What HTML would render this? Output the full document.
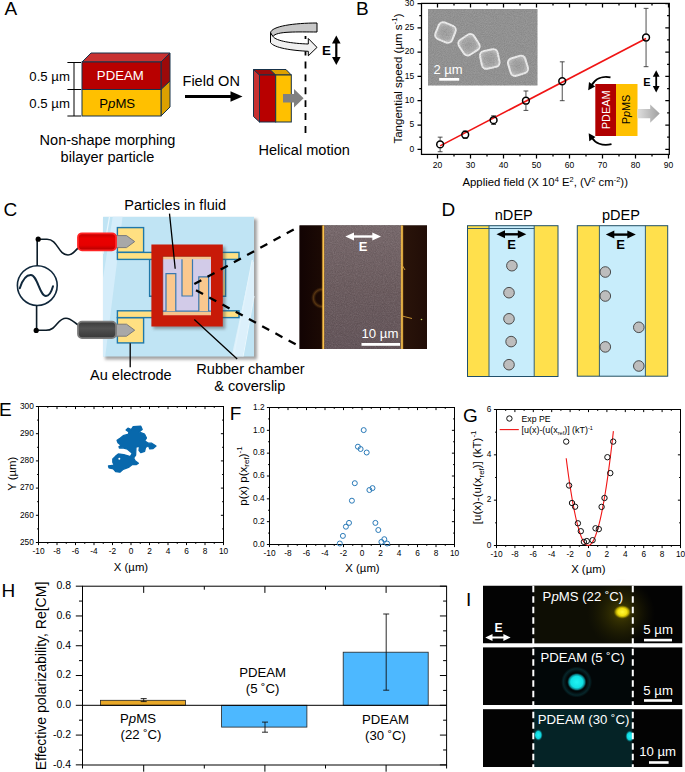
<!DOCTYPE html>
<html><head><meta charset="utf-8"><title>Figure</title>
<style>
html,body{margin:0;padding:0;background:#fff;}
svg{display:block;font-family:"Liberation Sans",sans-serif;}
.t{font-size:14.55px;fill:#000;}
.tk{font-size:8.6px;fill:#000;}
.pl{font-size:19px;fill:#000;}
.ax{stroke:#000;stroke-width:1;fill:none;}
.s{font-size:13.2px;fill:#000;}
</style></head><body>
<svg width="685" height="772" viewBox="0 0 685 772">
<rect width="685" height="772" fill="#fff"/>
<!--PANEL_A-->
<g id="pA">
<text class="pl" x="4.5" y="15.2">A</text>
<!-- big bilayer block -->
<polygon points="82,62 91,53 170,53 161,62" fill="#c83232" stroke="#17324a" stroke-width="1"/>
<polygon points="161,62 170,53 170,81 161,89.5" fill="#9c0a0a" stroke="#17324a" stroke-width="1"/>
<polygon points="161,89.5 170,81 170,107 161,116" fill="#dca000" stroke="#17324a" stroke-width="1"/>
<rect x="82" y="62" width="79" height="27.5" fill="#b80000" stroke="#17324a" stroke-width="1"/>
<rect x="82" y="89.5" width="79" height="26.5" fill="#ffc000" stroke="#17324a" stroke-width="1"/>
<text class="s" x="120.3" y="79.6" text-anchor="middle" style="fill:#fff">PDEAM</text>
<text class="s" x="117.2" y="107.8" text-anchor="middle">P<tspan font-style="italic">p</tspan>MS</text>
<!-- dimension -->
<path d="M74,62.5V116 M67.4,62.5H81 M67.4,89.5H81 M67.4,116H81" stroke="#000" stroke-width="1" fill="none"/>
<text class="s" x="29.3" y="81">0.5 µm</text>
<text class="s" x="29.3" y="107.5">0.5 µm</text>
<text class="t" x="107.5" y="144.6" text-anchor="middle">Non-shape morphing</text>
<text class="t" x="107.5" y="162" text-anchor="middle">bilayer particle</text>
<!-- field on arrow -->
<text class="t" x="182.5" y="85.5">Field ON</text>
<path d="M185,96.5H232" stroke="#000" stroke-width="3.2"/>
<polygon points="230.5,91.3 242.5,96.5 230.5,101.7" fill="#000"/>
<!-- small particle -->
<polygon points="253.5,69.5 259.5,75 259.5,122 253.5,116.5" fill="#c83232" stroke="#17324a" stroke-width="1"/>
<polygon points="253.5,69.5 270,69.5 275.7,75 259.5,75" fill="#9c0a0a" stroke="#17324a" stroke-width="1"/>
<polygon points="270,69.5 286,69.5 291.3,75 275.7,75" fill="#dca000" stroke="#17324a" stroke-width="1"/>
<rect x="259.5" y="75" width="16.2" height="47" fill="#b80000" stroke="#17324a" stroke-width="1"/>
<rect x="275.7" y="75" width="15.6" height="47" fill="#ffc000" stroke="#17324a" stroke-width="1"/>
<polygon points="283,94 294,94 294,89 303.6,98.3 294,107.6 294,102.6 283,102.6" fill="#808080"/>
<!-- helical arrow -->
<path d="M317,23 C295,23 271,26 270.5,33 L273,36.5 C276,31 298,32 317,32 Z" fill="#c8c8c8" stroke="#000" stroke-width="1" stroke-linejoin="round"/>
<path d="M270.5,33 L270.5,42.5 C274,48 292,50.5 308.3,51.3 L308.3,55.8 L317,47.4 L308.3,38.5 L308.3,44 C292,43.5 276,41 273,36.5 Z" fill="#f0f0f0" stroke="#000" stroke-width="1" stroke-linejoin="round"/>
<path d="M305.5,36V39" stroke="#000" stroke-width="1.8" fill="none"/><path d="M305.5,51.3V55.5 M305.5,61.5V134" stroke="#000" stroke-width="1.8" stroke-dasharray="6.9 6" fill="none"/>
<text x="322" y="54.8" font-size="13.3" font-weight="bold">E</text>
<path d="M336.3,42V58" stroke="#000" stroke-width="2.2"/>
<polygon points="336.3,35.5 340.6,43.5 332,43.5" fill="#000"/>
<polygon points="336.3,65 340.6,57 332,57" fill="#000"/>
<text class="t" x="258.5" y="154.8">Helical motion</text>
</g>
<!--PANEL_B-->
<g id="pB">
<text class="pl" x="356" y="15.3">B</text>
<!-- SEM inset -->
<defs>
<filter id="grain" x="0" y="0" width="100%" height="100%" color-interpolation-filters="sRGB"><feTurbulence type="fractalNoise" baseFrequency="0.9" numOctaves="2" seed="7" result="n"/><feColorMatrix in="n" type="matrix" values="0 0 0 0 1  0 0 0 0 1  0 0 0 0 1  1.6 0 0 0 -0.62"/></filter><filter id="grainD" x="0" y="0" width="100%" height="100%" color-interpolation-filters="sRGB"><feTurbulence type="fractalNoise" baseFrequency="0.9" numOctaves="2" seed="11" result="n"/><feColorMatrix in="n" type="matrix" values="0 0 0 0 0  0 0 0 0 0  0 0 0 0 0  1.6 0 0 0 -0.62"/></filter>
<radialGradient id="sq" cx="0.5" cy="0.5" r="0.6"><stop offset="0" stop-color="#9c9c9c"/><stop offset="0.6" stop-color="#a8a8a8"/><stop offset="1" stop-color="#c4c4c4"/></radialGradient><filter id="sblur" x="-20%" y="-20%" width="140%" height="140%"><feGaussianBlur stdDeviation="0.45"/></filter>
<linearGradient id="garrow" x1="0" y1="0" x2="1" y2="0"><stop offset="0" stop-color="#dedede"/><stop offset="1" stop-color="#a0a0a0"/></linearGradient>
</defs>
<rect x="428" y="9" width="109.5" height="76.5" fill="#929292"/>
<g stroke="#ececec" stroke-width="1.9" fill="url(#sq)" filter="url(#sblur)">
<rect x="-9" y="-9" width="18" height="18" rx="4.5" transform="translate(445.5,32.5) rotate(22)"/>
<rect x="-9" y="-9" width="18" height="18" rx="4.5" transform="translate(469,44.8) rotate(-33)"/>
<rect x="-9" y="-9" width="18" height="18" rx="4.5" transform="translate(489.8,59) rotate(-12)"/>
<rect x="-9" y="-9" width="18" height="18" rx="4.5" transform="translate(518,65.8) rotate(-17)"/>
</g>
<rect x="428" y="9" width="109.5" height="76.5" filter="url(#grain)" opacity="0.13"/><rect x="428" y="9" width="109.5" height="76.5" filter="url(#grainD)" opacity="0.11"/>
<text x="433.5" y="74" font-size="13" style="fill:#fff" fill="#fff">2 µm</text>
<rect x="439.2" y="78" width="20" height="2.7" fill="#fff"/>
<!-- axes -->
<rect x="421.5" y="3.4" width="247.8" height="151" fill="none" stroke="#000" stroke-width="1.25"/>
<path d="M437.5,154.4L437.5,158.4 M437.5,3.4L437.5,7.4 M470.5,154.4L470.5,158.4 M470.5,3.4L470.5,7.4 M503.5,154.4L503.5,158.4 M503.5,3.4L503.5,7.4 M536.5,154.4L536.5,158.4 M536.5,3.4L536.5,7.4 M569.5,154.4L569.5,158.4 M569.5,3.4L569.5,7.4 M602.5,154.4L602.5,158.4 M602.5,3.4L602.5,7.4 M635.5,154.4L635.5,158.4 M635.5,3.4L635.5,7.4 M668.5,154.4L668.5,158.4 M668.5,3.4L668.5,7.4 M454,154.4L454,156.6 M454,3.4L454,5.6 M487,154.4L487,156.6 M487,3.4L487,5.6 M520,154.4L520,156.6 M520,3.4L520,5.6 M553,154.4L553,156.6 M553,3.4L553,5.6 M586,154.4L586,156.6 M586,3.4L586,5.6 M619,154.4L619,156.6 M619,3.4L619,5.6 M652,154.4L652,156.6 M652,3.4L652,5.6 M421.5,149.3L417.5,149.3 M669.3,149.3L665.3,149.3 M421.5,125L417.5,125 M669.3,125L665.3,125 M421.5,100.7L417.5,100.7 M669.3,100.7L665.3,100.7 M421.5,76.4L417.5,76.4 M669.3,76.4L665.3,76.4 M421.5,52.1L417.5,52.1 M669.3,52.1L665.3,52.1 M421.5,27.8L417.5,27.8 M669.3,27.8L665.3,27.8 M421.5,3.5L417.5,3.5 M669.3,3.5L665.3,3.5 M421.5,137.15L419.3,137.15 M669.3,137.15L667.1,137.15 M421.5,112.85L419.3,112.85 M669.3,112.85L667.1,112.85 M421.5,88.55L419.3,88.55 M669.3,88.55L667.1,88.55 M421.5,64.25L419.3,64.25 M669.3,64.25L667.1,64.25 M421.5,39.95L419.3,39.95 M669.3,39.95L667.1,39.95 M421.5,15.65L419.3,15.65 M669.3,15.65L667.1,15.65" stroke="#000" stroke-width="1.25" fill="none"/>
<g font-size="8.5" text-anchor="middle"><text x="437.5" y="167.9">20</text><text x="470.5" y="167.9">30</text><text x="503.5" y="167.9">40</text><text x="536.5" y="167.9">50</text><text x="569.5" y="167.9">60</text><text x="602.5" y="167.9">70</text><text x="635.5" y="167.9">80</text><text x="668.5" y="167.9">90</text></g>
<g font-size="8.5" text-anchor="end"><text x="414.3" y="151.59">0</text><text x="414.3" y="127.3">5</text><text x="414.3" y="103">10</text><text x="414.3" y="78.7">15</text><text x="414.3" y="54.4">20</text><text x="414.3" y="30.09">25</text><text x="414.3" y="5.79">30</text></g>
<path d="M440.14,145.9L646.06,38.49" stroke="#f01414" stroke-width="1.6" fill="none"/>
<path d="M440.14,137.15L440.14,140.64 M440.14,148.24L440.14,151.73 M437.74,137.15L442.54,137.15 M437.74,151.73L442.54,151.73 M465.22,131.08L465.22,130.92 M465.22,138.52L465.22,138.37 M462.82,131.08L467.62,131.08 M462.82,138.37L467.62,138.37 M493.6,115.77L493.6,116.34 M493.6,123.94L493.6,124.51 M491.2,115.77L496,115.77 M491.2,124.51L496,124.51 M525.94,90.98L525.94,96.9 M525.94,104.5L525.94,110.42 M523.54,90.98L528.34,90.98 M523.54,110.42L528.34,110.42 M562.24,61.82L562.24,77.46 M562.24,85.06L562.24,100.7 M559.84,61.82L564.64,61.82 M559.84,100.7L564.64,100.7 M646.06,8.36L646.06,33.72 M646.06,41.32L646.06,66.68 M643.66,8.36L648.46,8.36 M643.66,66.68L648.46,66.68" stroke="#222" stroke-width="0.8" fill="none"/>
<circle cx="440.14" cy="144.44" r="3.4" fill="none" stroke="#000" stroke-width="1.5"/><circle cx="465.22" cy="134.72" r="3.4" fill="none" stroke="#000" stroke-width="1.5"/><circle cx="493.6" cy="120.14" r="3.4" fill="none" stroke="#000" stroke-width="1.5"/><circle cx="525.94" cy="100.7" r="3.4" fill="none" stroke="#000" stroke-width="1.5"/><circle cx="562.24" cy="81.26" r="3.4" fill="none" stroke="#000" stroke-width="1.5"/><circle cx="646.06" cy="37.52" r="3.4" fill="none" stroke="#000" stroke-width="1.5"/>
<text font-size="11.36" text-anchor="middle" x="545.2" y="185.7">Applied field (X 10<tspan font-size="7.4" dy="-4">4</tspan><tspan dy="4"> E</tspan><tspan font-size="7.4" dy="-4">2</tspan><tspan dy="4">, (V</tspan><tspan font-size="7.4" dy="-4">2</tspan><tspan dy="4"> cm</tspan><tspan font-size="7.4" dy="-4">-2</tspan><tspan dy="4">))</tspan></text>
<text font-size="11.5" text-anchor="middle" transform="translate(401.6,78.5) rotate(-90)">Tangential speed (µm s<tspan font-size="8" dy="-4.4">-1</tspan><tspan dy="4.4">)</tspan></text>
<!-- particle diagram -->
<rect x="595.3" y="84" width="20.8" height="52" fill="#b00000"/>
<rect x="616" y="84" width="21.5" height="52" fill="#ffc000"/>
<polygon points="637.5,109 650.2,109 650.2,104.5 659.7,113.6 650.2,122.8 650.2,118.2 637.5,118.2" fill="url(#garrow)"/>
<text transform="translate(609.8,109.8) rotate(-90)" text-anchor="middle" font-size="10.9" style="fill:#fff" fill="#fff">PDEAM</text>
<text transform="translate(630,109.5) rotate(-90)" text-anchor="middle" font-size="10.9">P<tspan font-style="italic">p</tspan>MS</text>
<path d="M610.5,77.3 C602,75.5 595,79 591.5,85.5" stroke="#000" stroke-width="1.8" fill="none"/>
<polygon points="588.2,90.3 589,82 595.2,86.6" fill="#000"/>
<path d="M611.5,144.2 C602,146.5 595,143 591.8,137.5" stroke="#000" stroke-width="1.8" fill="none"/>
<polygon points="588.7,133.2 589.3,141.3 595.5,136.9" fill="#000"/>
<text x="643.3" y="85.8" font-size="11" font-weight="bold">E</text>
<path d="M656.2,75V88" stroke="#000" stroke-width="1.8"/>
<polygon points="656.2,70.3 659.6,76.8 652.8,76.8" fill="#000"/>
<polygon points="656.2,92.6 659.6,86.1 652.8,86.1" fill="#000"/>
</g>
<!--PANEL_C-->
<g id="pC">
<text class="pl" x="3.5" y="215.5">C</text>
<defs>
<filter id="sh" x="-10%" y="-10%" width="125%" height="125%"><feGaussianBlur stdDeviation="1.6"/></filter>
<linearGradient id="micL" x1="0" y1="0" x2="1" y2="0"><stop offset="0" stop-color="#120403"/><stop offset="1" stop-color="#1c0a04"/></linearGradient>
<linearGradient id="micR" x1="0" y1="0" x2="1" y2="0"><stop offset="0" stop-color="#2a140a"/><stop offset="1" stop-color="#210d07"/></linearGradient>
<radialGradient id="halo"><stop offset="0.55" stop-color="#6a4010" stop-opacity="0"/><stop offset="0.78" stop-color="#8a5a1c" stop-opacity="0.55"/><stop offset="1" stop-color="#6a4010" stop-opacity="0"/></radialGradient>
<linearGradient id="clipR" x1="0" y1="0" x2="0" y2="1"><stop offset="0" stop-color="#c00000"/><stop offset="0.3" stop-color="#ea0000"/><stop offset="0.7" stop-color="#e60000"/><stop offset="1" stop-color="#b00000"/></linearGradient><linearGradient id="clipG" x1="0" y1="0" x2="0" y2="1"><stop offset="0" stop-color="#3a3a3a"/><stop offset="0.4" stop-color="#525252"/><stop offset="1" stop-color="#383838"/></linearGradient>
<linearGradient id="micC" x1="0" y1="0" x2="0" y2="1"><stop offset="0" stop-color="#78696c"/><stop offset="0.5" stop-color="#6c5c5f"/><stop offset="1" stop-color="#64555a"/></linearGradient>
</defs>
<!-- coverslip -->
<rect x="105" y="219" width="152" height="140.5" fill="#555" opacity="0.55" filter="url(#sh)"/>
<rect x="103" y="216.8" width="151" height="139.7" fill="#c0e4f4"/>
<polygon points="112.7,216.8 122.6,216.8 105.2,356.5 103,356.5 103,278" fill="#d8eefa" opacity="0.85"/>
<path d="M109.5,216.8L103,254 M252.3,260L233.5,356.5 M254,296L243,356.5" stroke="#eaf7fd" stroke-width="1.2" fill="none"/>
<polygon points="252.3,261 254,262 254,297 242.5,356.5 231.5,356.5" fill="#e0f2fb" opacity="0.85"/>
<!-- electrodes -->
<g fill="#ffe082" stroke="#2078a8" stroke-width="1.4" stroke-linejoin="miter">
<rect x="117.4" y="227.6" width="26.2" height="24.8"/>
<rect x="117.4" y="252.4" width="121.6" height="7"/>
<path d="M225.6,259.4V296.3H222"/>
<path d="M149.6,259.4V296.3H152" fill="none"/>
<rect x="117.4" y="317.6" width="26.2" height="25.3"/>
<rect x="117.4" y="310.8" width="121.6" height="6.8"/>
</g>
<rect x="153.4" y="246.8" width="72" height="82.3" fill="#444" opacity="0.45" filter="url(#sh)"/>
<!-- chamber interior -->
<rect x="162" y="256" width="50" height="60" fill="#d2cbe8"/>
<rect x="162" y="256" width="50" height="3.2" fill="#f6c48c"/>
<rect x="162" y="311.2" width="50" height="4.5" fill="#f6c48c"/>
<path d="M162,311.2H212" stroke="#3a78b0" stroke-width="1.2"/>
<g fill="#fac88e" stroke="#3a78b0" stroke-width="1.2">
<path d="M166,311.2V273.6H175.8V311.2"/>
<path d="M182,259.2V296H192.5V259.2"/>
<path d="M198.8,311.2V276.8H208.6V311.2"/>
</g>
<!-- red chamber -->
<path d="M151.4,244.6H222.8V326.5H151.4Z M162.8,256.4V315.2H211V256.4Z" fill="#c81a08" fill-rule="evenodd"/>
<path d="M162.8,315.2V256.4H211" stroke="#8a1206" stroke-width="1" fill="none" opacity="0.5"/>
<!-- source and wires -->
<circle cx="37.3" cy="285.6" r="19.9" fill="#fff" stroke="#10283c" stroke-width="1.6"/>
<path d="M19.8,288.2 C22.5,279.5 26.5,275 30.8,275 C37.5,275 39.5,296 46,296 C49.5,296 51.5,291.5 53,286.2" stroke="#10283c" stroke-width="2" fill="none" stroke-linecap="round"/>
<path d="M37.2,265.8V239.3H47 C58,239.3 58,255 68,255 C73,255 75,250 79,247.5" stroke="#0c1c28" stroke-width="1.6" fill="none"/>
<path d="M36.6,305.4V330.3H46 C57,330.3 57,318.3 66,318.3 C71,318.3 74,322.5 79,325.5" stroke="#0c1c28" stroke-width="1.6" fill="none"/>
<circle cx="38.2" cy="239.2" r="2.6" fill="#000"/><circle cx="36.2" cy="330.4" r="2.6" fill="#000"/>
<!-- clips -->
<polygon points="115,235.6 126.5,235.6 134.7,241.6 126.5,247.6 115,247.6" fill="#a8a8a8" stroke="#7a7a7a" stroke-width="1"/>
<rect x="78" y="233.3" width="38" height="17" rx="4" fill="url(#clipR)" stroke="#ff2424" stroke-width="1.8"/>
<polygon points="115,324.2 126.5,324.2 134.7,330.2 126.5,336.2 115,336.2" fill="#a8a8a8" stroke="#7a7a7a" stroke-width="1"/>
<rect x="78" y="321.7" width="38" height="16.4" rx="4" fill="url(#clipG)" stroke="#7c7c7c" stroke-width="1.8"/>
<!-- leaders -->
<path d="M169.5,213.6L175.2,268.7 M194.3,319.6L237.2,359 M130.2,343.3V367.3" stroke="#000" stroke-width="1.3" fill="none"/>
<text class="t" x="124.2" y="210">Particles in fluid</text>
<text class="t" x="90" y="380.2">Au electrode</text>
<text class="t" x="196.3" y="373.8">Rubber chamber</text>
<text class="t" x="214.3" y="390.5">&amp; coverslip</text>
<!-- zoom dashed -->
<path d="M194.3,284L300,226 M196,290.2L300.4,346.9" stroke="#000" stroke-width="2.3" stroke-dasharray="8 7.06" fill="none"/>
<!-- micrograph -->
<rect x="299.6" y="225.5" width="127.4" height="123.5" fill="#150604"/>
<rect x="299.6" y="225.5" width="23.4" height="123.5" fill="url(#micL)"/>
<rect x="402" y="225.5" width="25" height="123.5" fill="url(#micR)"/>
<circle cx="322" cy="298" r="11" fill="url(#halo)"/>
<rect x="323" y="225.5" width="79" height="123.5" fill="url(#micC)"/>
<rect x="323" y="225.5" width="79" height="123.5" filter="url(#grain)" opacity="0.12"/><rect x="323" y="225.5" width="79" height="123.5" filter="url(#grainD)" opacity="0.14"/>
<path d="M323.2,225.5V349 M402,225.5V349" stroke="#a87020" stroke-width="3" opacity="0.45"/><path d="M323.2,225.5V349 M402,225.5V349" stroke="#ffc84c" stroke-width="1.5"/>
<path d="M402,265L405,270 M402,316L412,318.5" stroke="#d8a038" stroke-width="1" opacity="0.9"/>
<circle cx="421.5" cy="319.5" r="0.8" fill="#c8d860"/>
<path d="M352,236.5H374" stroke="#fff" stroke-width="2.4"/>
<polygon points="345.3,236.5 354,232.4 354,240.6" fill="#fff"/><polygon points="381,236.5 372.3,232.4 372.3,240.6" fill="#fff"/>
<text x="363" y="250.6" font-size="13" font-weight="bold" text-anchor="middle" style="fill:#fff">E</text>
<text x="361.5" y="337.6" font-size="13.2" style="fill:#fff">10 µm</text>
<rect x="361.5" y="343" width="38.5" height="2.8" fill="#fff"/>
</g>
<!--PANEL_D-->
<g id="pD">
<text class="pl" x="441.5" y="216.2">D</text>
<text class="t" x="513.8" y="220" text-anchor="middle">nDEP</text>
<text class="t" x="621" y="220" text-anchor="middle">pDEP</text>
<rect x="467.5" y="225.7" width="90.5" height="150.8" fill="#ffe04c"/>
<rect x="489" y="225.7" width="45.2" height="150.8" fill="#c8edfb"/>
<path d="M489,225.7V376.5 M534.2,225.7V376.5 M467.5,228.5H534.2" stroke="#21506b" stroke-width="0.9" fill="none"/>
<rect x="467.5" y="225.7" width="90.5" height="150.8" fill="none" stroke="#21506b" stroke-width="1"/>
<rect x="577.3" y="225.7" width="90.4" height="150.5" fill="#ffe04c"/>
<rect x="599.4" y="225.7" width="46" height="150.5" fill="#c8edfb"/>
<path d="M599.4,225.7V376.2 M645.4,225.7V376.2" stroke="#21506b" stroke-width="0.9" fill="none"/>
<rect x="577.3" y="225.7" width="90.4" height="150.5" fill="none" stroke="#21506b" stroke-width="1"/>
<g fill="#bdbdbd" stroke="#3c3c3c" stroke-width="0.9">
<circle cx="511.9" cy="265.7" r="5.3"/><circle cx="509" cy="292.7" r="5.3"/><circle cx="509" cy="318.8" r="5.3"/><circle cx="511.1" cy="341.6" r="5.3"/><circle cx="509" cy="364.7" r="5.3"/>
<circle cx="605.3" cy="272" r="5.3"/><circle cx="605.3" cy="296" r="5.3"/><circle cx="638.8" cy="327.3" r="5.3"/><circle cx="605.3" cy="346.9" r="5.3"/><circle cx="638.8" cy="366" r="5.3"/>
</g>
<g id="dE1">
<path d="M502.5,234.3H520" stroke="#000" stroke-width="2.4"/>
<polygon points="496.5,234.3 505,230.3 505,238.3" fill="#000"/><polygon points="526.3,234.3 517.8,230.3 517.8,238.3" fill="#000"/>
<text x="511.5" y="248.5" font-size="13" font-weight="bold" text-anchor="middle">E</text>
</g>
<g id="dE2">
<path d="M612,234.6H630" stroke="#000" stroke-width="2.4"/>
<polygon points="605.8,234.6 614.3,230.6 614.3,238.6" fill="#000"/><polygon points="635.8,234.6 627.3,230.6 627.3,238.6" fill="#000"/>
<text x="620.7" y="248.8" font-size="13" font-weight="bold" text-anchor="middle">E</text>
</g>
</g>
<!--PANEL_E-->
<g id="pE">
<text class="pl" x="-1" y="416.3">E</text>
<rect x="38.5" y="406.5" width="185" height="136" fill="none" stroke="#000" stroke-width="1"/>
<path d="M38.5,542.5L38.5,545.1 M38.5,406.5L38.5,409.1 M57,542.5L57,545.1 M57,406.5L57,409.1 M75.5,542.5L75.5,545.1 M75.5,406.5L75.5,409.1 M94,542.5L94,545.1 M94,406.5L94,409.1 M112.5,542.5L112.5,545.1 M112.5,406.5L112.5,409.1 M131,542.5L131,545.1 M131,406.5L131,409.1 M149.5,542.5L149.5,545.1 M149.5,406.5L149.5,409.1 M168,542.5L168,545.1 M168,406.5L168,409.1 M186.5,542.5L186.5,545.1 M186.5,406.5L186.5,409.1 M205,542.5L205,545.1 M205,406.5L205,409.1 M223.5,542.5L223.5,545.1 M223.5,406.5L223.5,409.1 M47.75,542.5L47.75,543.9 M47.75,406.5L47.75,407.9 M66.25,542.5L66.25,543.9 M66.25,406.5L66.25,407.9 M84.75,542.5L84.75,543.9 M84.75,406.5L84.75,407.9 M103.25,542.5L103.25,543.9 M103.25,406.5L103.25,407.9 M121.75,542.5L121.75,543.9 M121.75,406.5L121.75,407.9 M140.25,542.5L140.25,543.9 M140.25,406.5L140.25,407.9 M158.75,542.5L158.75,543.9 M158.75,406.5L158.75,407.9 M177.25,542.5L177.25,543.9 M177.25,406.5L177.25,407.9 M195.75,542.5L195.75,543.9 M195.75,406.5L195.75,407.9 M214.25,542.5L214.25,543.9 M214.25,406.5L214.25,407.9 M38.5,542.5L35.9,542.5 M223.5,542.5L220.9,542.5 M38.5,515.3L35.9,515.3 M223.5,515.3L220.9,515.3 M38.5,488.1L35.9,488.1 M223.5,488.1L220.9,488.1 M38.5,460.9L35.9,460.9 M223.5,460.9L220.9,460.9 M38.5,433.7L35.9,433.7 M223.5,433.7L220.9,433.7 M38.5,406.5L35.9,406.5 M223.5,406.5L220.9,406.5 M38.5,528.9L37.1,528.9 M223.5,528.9L222.1,528.9 M38.5,501.7L37.1,501.7 M223.5,501.7L222.1,501.7 M38.5,474.5L37.1,474.5 M223.5,474.5L222.1,474.5 M38.5,447.3L37.1,447.3 M223.5,447.3L222.1,447.3 M38.5,420.1L37.1,420.1 M223.5,420.1L222.1,420.1" stroke="#000" stroke-width="1" fill="none"/>
<g font-size="8.3" text-anchor="middle"><text x="38.5" y="553.9">-10</text><text x="57" y="553.9">-8</text><text x="75.5" y="553.9">-6</text><text x="94" y="553.9">-4</text><text x="112.5" y="553.9">-2</text><text x="131" y="553.9">0</text><text x="149.5" y="553.9">2</text><text x="168" y="553.9">4</text><text x="186.5" y="553.9">6</text><text x="205" y="553.9">8</text><text x="223.5" y="553.9">10</text></g>
<g font-size="8.3" text-anchor="end"><text x="33.8" y="544.74">250</text><text x="33.8" y="517.54">260</text><text x="33.8" y="490.34">270</text><text x="33.8" y="463.14">280</text><text x="33.8" y="435.94">290</text><text x="33.8" y="408.74">300</text></g>
<polygon points="133.2,426.6 140.8,426.2 142.2,429.5 138.9,431.9 144.6,434.2 146.5,438 144.6,440.9 148.4,443.2 151.7,443.2 156,446.1 153.1,448.5 149.8,448.9 148.4,445.6 145.5,447.5 144.6,451.3 140.8,452.7 139,450.4 139.6,446 136,447 135.6,455.1 133.7,458 135.1,460.8 138.4,463.2 136.5,464.6 132.3,464.6 128.5,467.4 123.2,469.3 119.9,472.2 115.7,471.7 113.3,468.9 109,467.9 108.5,466 114.2,465.1 112.8,462.2 112.8,458.9 115.7,456.1 118.3,454 123.7,454.6 130.4,456.6 132.2,453.2 127.5,449.2 122.8,447.8 119.4,448 119,446.6 121.3,445.6 118,442.8 117.1,440.4 120.4,438 123.2,435.7 128.5,434.2 128.9,431.9 126.1,430 128,428.1 131.3,429.5" fill="#0868ac" stroke="#0868ac" stroke-width="1.3" stroke-linejoin="round"/>
<circle cx="119.3" cy="458.8" r="1" fill="#fff"/>
<text font-size="11.36" text-anchor="middle" x="131" y="571.3">X (µm)</text>
<text font-size="11.36" text-anchor="middle" transform="translate(15.6,473.8) rotate(-90)">Y (µm)</text>
</g>
<!--PANEL_F-->
<g id="pF">
<text class="pl" x="229.8" y="420.3">F</text>
<rect x="269.5" y="407.5" width="185" height="137" fill="none" stroke="#000" stroke-width="1"/>
<path d="M269.5,544.5L269.5,547.1 M269.5,407.5L269.5,410.1 M288,544.5L288,547.1 M288,407.5L288,410.1 M306.5,544.5L306.5,547.1 M306.5,407.5L306.5,410.1 M325,544.5L325,547.1 M325,407.5L325,410.1 M343.5,544.5L343.5,547.1 M343.5,407.5L343.5,410.1 M362,544.5L362,547.1 M362,407.5L362,410.1 M380.5,544.5L380.5,547.1 M380.5,407.5L380.5,410.1 M399,544.5L399,547.1 M399,407.5L399,410.1 M417.5,544.5L417.5,547.1 M417.5,407.5L417.5,410.1 M436,544.5L436,547.1 M436,407.5L436,410.1 M454.5,544.5L454.5,547.1 M454.5,407.5L454.5,410.1 M278.75,544.5L278.75,545.9 M278.75,407.5L278.75,408.9 M297.25,544.5L297.25,545.9 M297.25,407.5L297.25,408.9 M315.75,544.5L315.75,545.9 M315.75,407.5L315.75,408.9 M334.25,544.5L334.25,545.9 M334.25,407.5L334.25,408.9 M352.75,544.5L352.75,545.9 M352.75,407.5L352.75,408.9 M371.25,544.5L371.25,545.9 M371.25,407.5L371.25,408.9 M389.75,544.5L389.75,545.9 M389.75,407.5L389.75,408.9 M408.25,544.5L408.25,545.9 M408.25,407.5L408.25,408.9 M426.75,544.5L426.75,545.9 M426.75,407.5L426.75,408.9 M445.25,544.5L445.25,545.9 M445.25,407.5L445.25,408.9 M269.5,544.5L266.9,544.5 M454.5,544.5L451.9,544.5 M269.5,521.67L266.9,521.67 M454.5,521.67L451.9,521.67 M269.5,498.83L266.9,498.83 M454.5,498.83L451.9,498.83 M269.5,476L266.9,476 M454.5,476L451.9,476 M269.5,453.17L266.9,453.17 M454.5,453.17L451.9,453.17 M269.5,430.33L266.9,430.33 M454.5,430.33L451.9,430.33 M269.5,407.5L266.9,407.5 M454.5,407.5L451.9,407.5 M269.5,533.08L268.1,533.08 M454.5,533.08L453.1,533.08 M269.5,510.25L268.1,510.25 M454.5,510.25L453.1,510.25 M269.5,487.42L268.1,487.42 M454.5,487.42L453.1,487.42 M269.5,464.58L268.1,464.58 M454.5,464.58L453.1,464.58 M269.5,441.75L268.1,441.75 M454.5,441.75L453.1,441.75 M269.5,418.92L268.1,418.92 M454.5,418.92L453.1,418.92" stroke="#000" stroke-width="1" fill="none"/>
<g font-size="8.3" text-anchor="middle"><text x="269.5" y="555.8">-10</text><text x="288" y="555.8">-8</text><text x="306.5" y="555.8">-6</text><text x="325" y="555.8">-4</text><text x="343.5" y="555.8">-2</text><text x="362" y="555.8">0</text><text x="380.5" y="555.8">2</text><text x="399" y="555.8">4</text><text x="417.5" y="555.8">6</text><text x="436" y="555.8">8</text><text x="454.5" y="555.8">10</text></g>
<g font-size="8.3" text-anchor="end"><text x="264.6" y="546.74">0.0</text><text x="264.6" y="523.91">0.2</text><text x="264.6" y="501.07">0.4</text><text x="264.6" y="478.24">0.6</text><text x="264.6" y="455.41">0.8</text><text x="264.6" y="432.57">1.0</text><text x="264.6" y="409.74">1.2</text></g>
<g fill="none" stroke="#2a7ab8" stroke-width="1"><circle cx="363.7" cy="430.1" r="2.5"/><circle cx="357.9" cy="446.7" r="2.5"/><circle cx="360.6" cy="449" r="2.5"/><circle cx="366.7" cy="452.5" r="2.5"/><circle cx="354.8" cy="483.2" r="2.5"/><circle cx="372.5" cy="488.1" r="2.5"/><circle cx="369.4" cy="490" r="2.5"/><circle cx="351.9" cy="500.7" r="2.5"/><circle cx="349" cy="522.9" r="2.5"/><circle cx="345.9" cy="526.7" r="2.5"/><circle cx="375.4" cy="522.9" r="2.5"/><circle cx="378.3" cy="530" r="2.5"/><circle cx="342.9" cy="535.9" r="2.5"/><circle cx="339.8" cy="543.5" r="2.5"/><circle cx="381.4" cy="541.9" r="2.5"/><circle cx="384.3" cy="539.2" r="2.5"/><circle cx="387.1" cy="543.5" r="2.5"/></g>
<text font-size="11.36" text-anchor="middle" x="362.5" y="572.3">X (µm)</text>
<text font-size="11.5" text-anchor="middle" transform="translate(246.6,476) rotate(-90)">p(x) p(x<tspan font-size="8" dy="2.6">ref</tspan><tspan dy="-2.6">)</tspan><tspan font-size="8" dy="-4.6">-1</tspan></text>
</g>
<!--PANEL_G-->
<g id="pG">
<text class="pl" x="463" y="422">G</text>
<rect x="496.5" y="409.5" width="184" height="136" fill="none" stroke="#000" stroke-width="1"/>
<path d="M496.5,545.5L496.5,548.1 M496.5,409.5L496.5,412.1 M514.9,545.5L514.9,548.1 M514.9,409.5L514.9,412.1 M533.3,545.5L533.3,548.1 M533.3,409.5L533.3,412.1 M551.7,545.5L551.7,548.1 M551.7,409.5L551.7,412.1 M570.1,545.5L570.1,548.1 M570.1,409.5L570.1,412.1 M588.5,545.5L588.5,548.1 M588.5,409.5L588.5,412.1 M606.9,545.5L606.9,548.1 M606.9,409.5L606.9,412.1 M625.3,545.5L625.3,548.1 M625.3,409.5L625.3,412.1 M643.7,545.5L643.7,548.1 M643.7,409.5L643.7,412.1 M662.1,545.5L662.1,548.1 M662.1,409.5L662.1,412.1 M680.5,545.5L680.5,548.1 M680.5,409.5L680.5,412.1 M505.7,545.5L505.7,546.9 M505.7,409.5L505.7,410.9 M524.1,545.5L524.1,546.9 M524.1,409.5L524.1,410.9 M542.5,545.5L542.5,546.9 M542.5,409.5L542.5,410.9 M560.9,545.5L560.9,546.9 M560.9,409.5L560.9,410.9 M579.3,545.5L579.3,546.9 M579.3,409.5L579.3,410.9 M597.7,545.5L597.7,546.9 M597.7,409.5L597.7,410.9 M616.1,545.5L616.1,546.9 M616.1,409.5L616.1,410.9 M634.5,545.5L634.5,546.9 M634.5,409.5L634.5,410.9 M652.9,545.5L652.9,546.9 M652.9,409.5L652.9,410.9 M671.3,545.5L671.3,546.9 M671.3,409.5L671.3,410.9 M496.5,545.5L493.9,545.5 M680.5,545.5L677.9,545.5 M496.5,500.17L493.9,500.17 M680.5,500.17L677.9,500.17 M496.5,454.83L493.9,454.83 M680.5,454.83L677.9,454.83 M496.5,409.5L493.9,409.5 M680.5,409.5L677.9,409.5 M496.5,522.83L495.1,522.83 M680.5,522.83L679.1,522.83 M496.5,477.5L495.1,477.5 M680.5,477.5L679.1,477.5 M496.5,432.17L495.1,432.17 M680.5,432.17L679.1,432.17" stroke="#000" stroke-width="1" fill="none"/>
<g font-size="8.3" text-anchor="middle"><text x="496.5" y="556.8">-10</text><text x="514.9" y="556.8">-8</text><text x="533.3" y="556.8">-6</text><text x="551.7" y="556.8">-4</text><text x="570.1" y="556.8">-2</text><text x="588.5" y="556.8">0</text><text x="606.9" y="556.8">2</text><text x="625.3" y="556.8">4</text><text x="643.7" y="556.8">6</text><text x="662.1" y="556.8">8</text><text x="680.5" y="556.8">10</text></g>
<g font-size="8.3" text-anchor="end"><text x="491.3" y="547.74">0</text><text x="491.3" y="502.41">2</text><text x="491.3" y="457.07">4</text><text x="491.3" y="411.74">6</text></g>
<polyline points="566.2,458.28 567.38,467.37 568.56,475.97 569.74,484.06 570.92,491.65 572.1,498.74 573.28,505.33 574.46,511.42 575.64,517 576.82,522.09 578,526.67 579.18,530.76 580.36,534.34 581.54,537.42 582.72,539.99 583.9,542.07 585.08,543.65 586.26,544.72 587.44,545.3 588.62,545.37 589.8,544.94 590.98,544.01 592.16,542.58 593.34,540.64 594.52,538.21 595.7,535.28 596.88,531.84 598.06,527.9 599.24,523.46 600.42,518.52 601.6,513.08 602.78,507.14 603.96,500.69 605.14,493.75 606.32,486.3 607.5,478.35 608.68,469.9 609.86,460.95 611.04,451.5 612.22,441.55 613.4,431.09" fill="none" stroke="#f01414" stroke-width="1.1"/>
<g fill="none" stroke="#111" stroke-width="1"><circle cx="566.2" cy="441.6" r="2.7"/><circle cx="569.1" cy="485.5" r="2.7"/><circle cx="572" cy="503" r="2.7"/><circle cx="575.1" cy="506.7" r="2.7"/><circle cx="577.9" cy="523.3" r="2.7"/><circle cx="580.8" cy="531.2" r="2.7"/><circle cx="583.9" cy="541.9" r="2.7"/><circle cx="586.8" cy="541.1" r="2.7"/><circle cx="592.6" cy="540.2" r="2.7"/><circle cx="595.5" cy="528.3" r="2.7"/><circle cx="598.8" cy="529.1" r="2.7"/><circle cx="601.6" cy="506.9" r="2.7"/><circle cx="604.5" cy="498" r="2.7"/><circle cx="610.3" cy="473.1" r="2.7"/><circle cx="607.4" cy="457.2" r="2.7"/><circle cx="613.2" cy="441.6" r="2.7"/></g>
<circle cx="509.4" cy="418.5" r="2.7" fill="none" stroke="#111" stroke-width="1"/><text font-size="8.7" x="521.5" y="421.7">Exp PE</text>
<path d="M499.7,429.6H518.8" stroke="#f01414" stroke-width="1.1"/><text font-size="8.95" x="521.5" y="433">[u(x)-(u(x<tspan font-size="5.5" dy="1.8">ref</tspan><tspan dy="-1.8">)] (kT)</tspan><tspan font-size="5.5" dy="-3.3">-1</tspan></text>
<text font-size="11.36" text-anchor="middle" x="588.3" y="573">X (µm)</text>
<text font-size="11.5" text-anchor="middle" transform="translate(481,477.3) rotate(-90)">[u(x)-(u(x<tspan font-size="8" dy="2.6">ref</tspan><tspan dy="-2.6">)] (kT)</tspan><tspan font-size="8" dy="-4.6">-1</tspan></text>
</g>
<!--PANEL_H-->
<g id="pH">
<text class="pl" x="1.5" y="597">H</text>
<rect x="100.4" y="700.3" width="85" height="5" fill="#e8a828" stroke="#222" stroke-width="0.8"/>
<rect x="221.6" y="705.3" width="85.3" height="21.8" fill="#4db8ff" stroke="#222" stroke-width="0.8"/>
<rect x="343.2" y="652.2" width="85" height="53.1" fill="#4db8ff" stroke="#222" stroke-width="0.8"/>
<path d="M82.5,705.3H446.6" stroke="#000" stroke-width="1"/>
<rect x="82.5" y="586.2" width="364.1" height="178.8" fill="none" stroke="#000" stroke-width="1"/>
<path d="M143.7,765L143.7,771.7 M143.7,586.2L143.7,592.9 M264.9,765L264.9,771.7 M264.9,586.2L264.9,592.9 M386.1,765L386.1,771.7 M386.1,586.2L386.1,592.9 M204.3,765L204.3,768.5 M204.3,586.2L204.3,589.7 M325.5,765L325.5,768.5 M325.5,586.2L325.5,589.7 M82.5,764.86L75.8,764.86 M446.6,764.86L439.9,764.86 M82.5,735.08L75.8,735.08 M446.6,735.08L439.9,735.08 M82.5,705.3L75.8,705.3 M446.6,705.3L439.9,705.3 M82.5,675.52L75.8,675.52 M446.6,675.52L439.9,675.52 M82.5,645.74L75.8,645.74 M446.6,645.74L439.9,645.74 M82.5,615.96L75.8,615.96 M446.6,615.96L439.9,615.96 M82.5,586.18L75.8,586.18 M446.6,586.18L439.9,586.18 M82.5,749.97L79,749.97 M446.6,749.97L443.1,749.97 M82.5,720.19L79,720.19 M446.6,720.19L443.1,720.19 M82.5,690.41L79,690.41 M446.6,690.41L443.1,690.41 M82.5,660.63L79,660.63 M446.6,660.63L443.1,660.63 M82.5,630.85L79,630.85 M446.6,630.85L443.1,630.85 M82.5,601.07L79,601.07 M446.6,601.07L443.1,601.07" stroke="#000" stroke-width="1" fill="none"/>
<g font-size="10.5" text-anchor="middle"></g>
<g font-size="10.5" text-anchor="end"><text x="71.1" y="767.69">-0.4</text><text x="71.1" y="737.91">-0.2</text><text x="71.1" y="708.13">0.0</text><text x="71.1" y="678.36">0.2</text><text x="71.1" y="648.58">0.4</text><text x="71.1" y="618.79">0.6</text><text x="71.1" y="589.01">0.8</text></g>
<path d="M82.5,765V768.5M446.6,765V768.5" stroke="#000" stroke-width="1"/>
<path d="M143.7,698.6L143.7,701.6 M140.7,698.6L146.7,698.6 M140.7,701.6L146.7,701.6 M265,722.1L265,732.2 M262,722.1L268,722.1 M262,732.2L268,732.2 M386.2,614L386.2,690.2 M383.2,614L389.2,614 M383.2,690.2L389.2,690.2" stroke="#111" stroke-width="0.9" fill="none"/>
<g class="s" text-anchor="middle"><text x="138" y="723.4">P<tspan font-style="italic">p</tspan>MS</text><text x="141" y="738.8">(22 ˚C)</text><text x="262.6" y="676.8">PDEAM</text><text x="262.6" y="692.8">(5 ˚C)</text><text x="385.5" y="724">PDEAM</text><text x="385.5" y="740.2">(30 ˚C)</text></g>
<text font-size="14" text-anchor="middle" transform="translate(46.3,676) rotate(-90)">Effective polarizability, Re[CM]</text>
</g>
<!--PANEL_I-->
<g id="pI">
<text class="pl" x="466" y="606">I</text>
<defs>
<radialGradient id="yb"><stop offset="0" stop-color="#fff83a"/><stop offset="0.5" stop-color="#f2e010"/><stop offset="0.72" stop-color="#b0a000"/><stop offset="1" stop-color="#5a5000" stop-opacity="0"/></radialGradient>
<radialGradient id="yglow"><stop offset="0" stop-color="#5a5200" stop-opacity="0.75"/><stop offset="1" stop-color="#2a2600" stop-opacity="0"/></radialGradient>
<radialGradient id="cb"><stop offset="0" stop-color="#20f4f4"/><stop offset="0.62" stop-color="#10e0e4"/><stop offset="0.82" stop-color="#0a8088"/><stop offset="1" stop-color="#043038" stop-opacity="0"/></radialGradient>
<radialGradient id="chalo"><stop offset="0.65" stop-color="#0a5058" stop-opacity="0"/><stop offset="0.85" stop-color="#0c4a52" stop-opacity="0.45"/><stop offset="1" stop-color="#0a5058" stop-opacity="0"/></radialGradient>
<radialGradient id="cs"><stop offset="0" stop-color="#20f0f4"/><stop offset="0.6" stop-color="#10d4dc"/><stop offset="1" stop-color="#065860" stop-opacity="0"/></radialGradient>
</defs>
<rect x="483" y="585.5" width="199.3" height="58" fill="#030303"/>
<rect x="533.5" y="585.5" width="99" height="58" fill="#0e0e04"/>
<ellipse cx="621" cy="613" rx="34" ry="34" fill="url(#yglow)"/><ellipse cx="622" cy="612" rx="14" ry="12" fill="url(#yglow)"/>
<rect x="483" y="580" width="200" height="5.5" fill="#fff"/><rect x="483" y="643.5" width="200" height="4" fill="#fff"/>
<ellipse cx="622.3" cy="612" rx="9" ry="7" fill="url(#yb)"/>
<rect x="483" y="647.4" width="199.3" height="57.6" fill="#030303"/>
<rect x="533.5" y="647.4" width="99" height="57.6" fill="#020708"/>
<circle cx="576.6" cy="682" r="15.5" fill="url(#chalo)"/>
<ellipse cx="576.8" cy="682" rx="9.8" ry="9.2" fill="url(#cb)"/>
<rect x="483" y="709.2" width="199.3" height="57.8" fill="#030303"/>
<rect x="533.5" y="709.2" width="99" height="57.8" fill="#052326"/>
<ellipse cx="538.3" cy="735" rx="4.6" ry="6" fill="url(#cs)"/><ellipse cx="629.8" cy="736.2" rx="4.6" ry="6" fill="url(#cs)"/>
<path d="M533.3,585.8V767 M632.8,585.8V767" stroke="#fff" stroke-width="2" stroke-dasharray="6.5 4" fill="none"/>
<g class="s" style="fill:#fff" fill="#fff">
<text x="542.6" y="600.6" style="fill:#fff">P<tspan font-style="italic">p</tspan>MS (22 ˚C)</text>
<text x="540.4" y="662.4" style="fill:#fff">PDEAM (5 ˚C)</text>
<text x="537.8" y="724.4" style="fill:#fff">PDEAM (30 ˚C)</text>
<text x="643.3" y="634.3" style="fill:#fff">5 µm</text>
<text x="643.3" y="695" style="fill:#fff">5 µm</text>
<text x="639.2" y="755.6" style="fill:#fff">10 µm</text>
</g>
<rect x="644" y="638.8" width="28" height="2.6" fill="#fff"/><rect x="644" y="699.2" width="28" height="2.6" fill="#fff"/><rect x="649" y="761.2" width="19.6" height="2.6" fill="#fff"/>
<path d="M491,637.5H505" stroke="#fff" stroke-width="2"/>
<polygon points="485.3,637.5 492.5,634.1 492.5,640.9" fill="#fff"/><polygon points="510.6,637.5 503.4,634.1 503.4,640.9" fill="#fff"/>
<text x="498.5" y="632.2" font-size="12.2" font-weight="bold" text-anchor="middle" style="fill:#fff">E</text>
</g>
</svg>
</body></html>
